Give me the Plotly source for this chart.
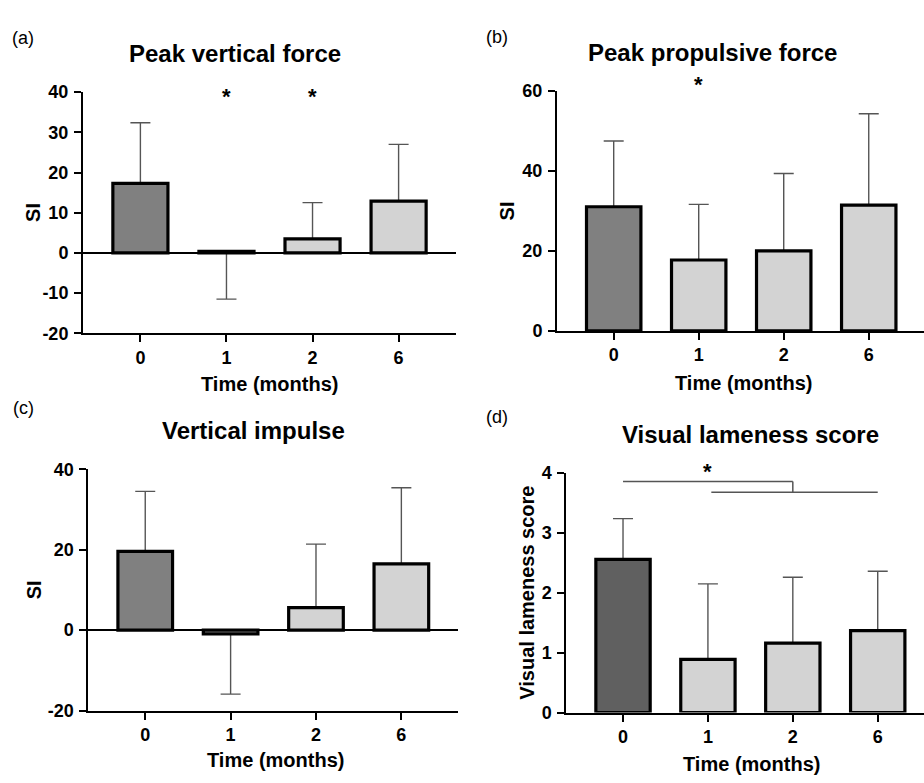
import plotly.graph_objects as go

W, H = 924, 783

# ---------------- data ----------------
time_labels = ["0", "1", "2", "6"]

pvf_mean = [17.3, 0.4, 3.5, 12.9]          # Peak vertical force (SI)
pvf_err_end = [32.4, -11.5, 12.5, 27.0]

ppf_mean = [31.0, 17.7, 20.0, 31.4]        # Peak propulsive force (SI)
ppf_err_end = [47.4, 31.6, 39.3, 54.2]

vi_mean = [19.6, -0.9, 5.6, 16.5]          # Vertical impulse (SI)
vi_err_end = [34.5, -15.9, 21.4, 35.4]

vls_mean = [2.56, 0.89, 1.16, 1.37]        # Visual lameness score
vls_err_end = [3.24, 2.15, 2.26, 2.36]

panel_titles = ["Peak vertical force", "Peak propulsive force",
                "Vertical impulse", "Visual lameness score"]
panel_letters = ["(a)", "(b)", "(c)", "(d)"]
y_titles = ["SI", "SI", "SI", "Visual lameness score"]

yticks_a = [-20, -10, 0, 10, 20, 30, 40]
yticks_b = [0, 20, 40, 60]
yticks_c = [-20, 0, 20, 40]
yticks_d = [0, 1, 2, 3, 4]

sig_a = [("1", 39.0), ("2", 39.0)]
sig_b = [("1", 61.5)]
sig_d = [("1", 4.02)]
bracket_d_y = [3.86, 3.68]

FONT = "Liberation Sans, Arial, sans-serif"
DARK = "#808080"
DARK_D = "#606060"
LIGHT = "#d3d3d3"
ERR = "#555555"


def px(x):
    return x / W


def py(y):
    return 1 - y / H


fig = go.Figure()

panels = [
    dict(mean=pvf_mean, end=pvf_err_end, dark=DARK, xd=(83, 456), yd=(84.3, 331.7),
         yt=yticks_a, zl=True, xr=(-0.667, 3.667), sig=sig_a),
    dict(mean=ppf_mean, end=ppf_err_end, dark=DARK, xd=(557, 924), yd=(82.7, 329.3),
         yt=yticks_b, zl=False, xr=(-0.667, 3.65), sig=sig_b),
    dict(mean=vi_mean, end=vi_err_end, dark=DARK, xd=(88.3, 458.3), yd=(471.3, 719),
         yt=yticks_c, zl=True, xr=(-0.667, 3.667), sig=[]),
    dict(mean=vls_mean, end=vls_err_end, dark=DARK_D, xd=(566.3, 924), yd=(475.3, 721),
         yt=yticks_d, zl=False, xr=(-0.668, 3.545), sig=sig_d),
]

annotations = []
layout_axes = {}
for i, p in enumerate(panels):
    n = i + 1
    xa = "x" if n == 1 else f"x{n}"
    ya = "y" if n == 1 else f"y{n}"
    plus = [max(e - m, 0) for m, e in zip(p["mean"], p["end"])]
    minus = [max(m - e, 0) for m, e in zip(p["mean"], p["end"])]
    colors = [p["dark"]] + [LIGHT] * (len(time_labels) - 1)
    # error bars (drawn underneath)
    fig.add_trace(go.Bar(
        x=time_labels, y=p["mean"], xaxis=xa, yaxis=ya, width=0.64,
        marker=dict(color="rgba(0,0,0,0)", line=dict(width=0)),
        error_y=dict(type="data", symmetric=False, array=plus, arrayminus=minus,
                     color=ERR, thickness=1.4, width=10),
        showlegend=False, hoverinfo="skip",
    ))
    # bars on top
    fig.add_trace(go.Bar(
        x=time_labels, y=p["mean"], xaxis=xa, yaxis=ya, width=0.64,
        marker=dict(color=colors, line=dict(color="black", width=3.2)),
        showlegend=False, hoverinfo="skip",
    ))
    xkey = "xaxis" if n == 1 else f"xaxis{n}"
    ykey = "yaxis" if n == 1 else f"yaxis{n}"
    layout_axes[xkey] = dict(
        domain=[px(p["xd"][0]), min(px(p["xd"][1]), 1.0)],
        anchor=ya, type="category", categoryorder="array", categoryarray=time_labels,
        range=list(p["xr"]), showline=True, linecolor="black", linewidth=2,
        ticks="outside", ticklen=7, tickwidth=2, tickcolor="black",
        tickfont=dict(family=FONT, size=18, color="black", weight="bold"),
        ticklabelstandoff=0, showgrid=False, zeroline=False, fixedrange=True,
    )
    yt = p["yt"]
    layout_axes[ykey] = dict(
        domain=[py(p["yd"][1]), py(p["yd"][0])],
        anchor=xa, range=[yt[0], yt[-1]], tickmode="array", tickvals=yt,
        ticktext=[f"{v:g}" for v in yt],
        showline=True, linecolor="black", linewidth=2,
        ticks="outside", ticklen=7, tickwidth=2, tickcolor="black",
        tickfont=dict(family=FONT, size=18, color="black", weight="bold"),
        ticklabelstandoff=2, showgrid=False,
        zeroline=p["zl"], zerolinecolor="black", zerolinewidth=2, fixedrange=True,
    )
    lo, hi = yt[0], yt[-1]
    for cat, yv in p["sig"]:
        annotations.append(dict(text="*", x=cat, y=(yv - lo) / (hi - lo),
                                xref=xa, yref=f"{ya} domain", showarrow=False,
                                xanchor="center", yanchor="middle",
                                font=dict(family=FONT, size=22, color="black", weight="bold")))

title_pos = [(235, 45), (712.7, 44), (253, 431.7), (750.3, 436)]
letter_pos = [(23, 29), (497, 28), (23, 408), (497, 418)]
xtitle_pos = [(269.7, 383.3), (743, 383), (275, 770), (751.7, 773.3)]
ytitle_pos = [(33.5, 207.7), (507, 206.7), (33.5, 595), (527, 598)]

for i in range(4):
    annotations.append(dict(text=panel_titles[i], x=px(title_pos[i][0]), y=py(title_pos[i][1]),
                            xref="paper", yref="paper", showarrow=False,
                            xanchor="center", yanchor="middle",
                            font=dict(family=FONT, size=24, color="black", weight="bold")))
    annotations.append(dict(text=panel_letters[i], x=px(letter_pos[i][0]), y=py(letter_pos[i][1]),
                            xref="paper", yref="paper", showarrow=False,
                            xanchor="center", yanchor="middle",
                            font=dict(family=FONT, size=18, color="black")))
    annotations.append(dict(text="Time (months)", x=px(xtitle_pos[i][0]), y=py(xtitle_pos[i][1]),
                            xref="paper", yref="paper", showarrow=False,
                            xanchor="center", yanchor="middle",
                            font=dict(family=FONT, size=20, color="black", weight="bold")))
    annotations.append(dict(text=y_titles[i], x=px(ytitle_pos[i][0]), y=py(ytitle_pos[i][1]),
                            xref="paper", yref="paper", showarrow=False, textangle=-90,
                            xanchor="center", yanchor="middle",
                            font=dict(family=FONT, size=20, color="black", weight="bold")))

shapes = [
    dict(type="line", xref="x4", yref="y4", x0=0, x1=2, y0=bracket_d_y[0], y1=bracket_d_y[0],
         line=dict(color=ERR, width=1.5)),
    dict(type="line", xref="x4", yref="y4", x0=1.04, x1=3, y0=bracket_d_y[1], y1=bracket_d_y[1],
         line=dict(color=ERR, width=1.5)),
    dict(type="line", xref="x4", yref="y4", x0=2, x1=2, y0=bracket_d_y[0], y1=bracket_d_y[1],
         line=dict(color=ERR, width=1.5)),
]

fig.update_layout(
    width=W, height=H, margin=dict(l=0, r=0, t=0, b=0),
    paper_bgcolor="white", plot_bgcolor="white",
    font=dict(family=FONT, color="black"),
    annotations=annotations, shapes=shapes, barmode="overlay",
    **layout_axes,
)

fig.write_html(
    "out.html",
    config={"displayModeBar": False},
    post_script="document.body.style.margin='0';document.body.style.overflow='hidden';",
)
